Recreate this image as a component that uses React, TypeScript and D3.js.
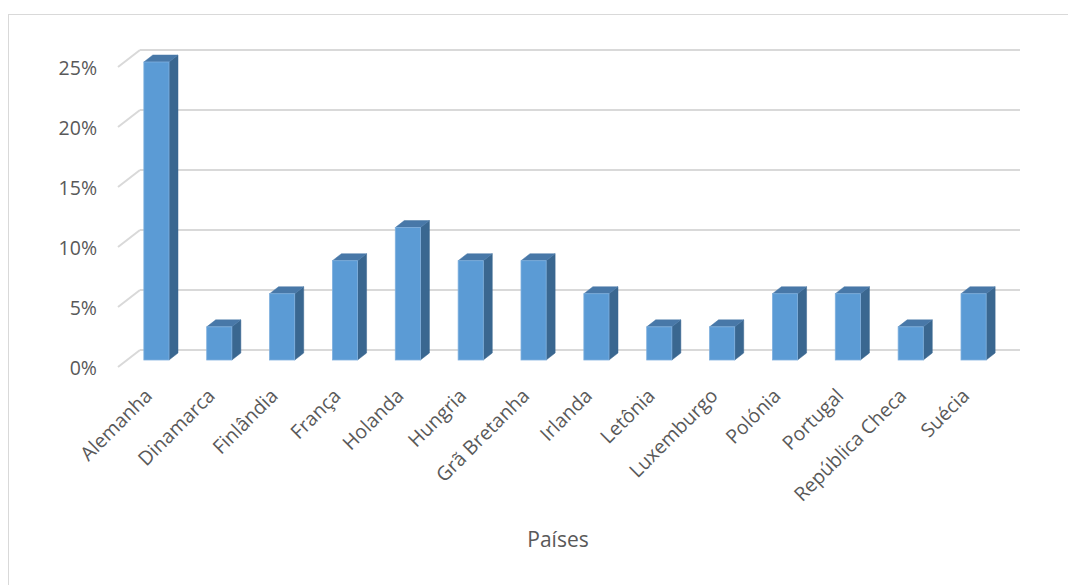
import React from "react";
import * as d3 from "d3";

const categories = [
  "Alemanha", "Dinamarca", "Finlândia", "França", "Holanda", "Hungria", "Grã Bretanha",
  "Irlanda", "Letônia", "Luxemburgo", "Polónia", "Portugal", "República Checa", "Suécia",
];
const values = [25, 2.78, 5.56, 8.33, 11.11, 8.33, 8.33, 5.56, 2.78, 2.78, 5.56, 5.56, 2.78, 5.56];
const yTicks = [0, 5, 10, 15, 20, 25];
const xTitle = "Países";

const W = 1068;
const H = 585;
const FONT = "'Open Sans', 'Segoe UI', sans-serif";

export default function App() {
  // back wall
  const wallX0 = 140, wallX1 = 1020;
  const yWall = d3.scaleLinear().domain([0, 25]).range([350, 50]);
  const depthDx = -22, depthDy = 17;
  // bars (front faces)
  const x = d3.scaleBand().domain(categories).range([125, 1005]).paddingInner(0.6).paddingOuter(0.3);
  const yBar = d3.scaleLinear().domain([0, 25]).range([360, 62]);
  const bdx = 9, bdy = -7;
  const bw = x.bandwidth();

  return (
    <svg width={W} height={H} style={{ display: "block", position: "absolute", left: 0, top: 0 }}>
      <rect x={8.5} y={14.5} width={W} height={H} fill="#fff" stroke="#d9d9d9" strokeWidth={1} />
      {yTicks.map((t) => {
        const y = yWall(t);
        return (
          <g key={t}>
            <line x1={wallX0} x2={wallX1} y1={y} y2={y} stroke="#d9d9d9" strokeWidth={2} />
            <line x1={wallX0 + depthDx} y1={y + depthDy} x2={wallX0} y2={y} stroke="#d9d9d9" strokeWidth={2} />
            <text x={97} y={y + 20} fontFamily={FONT} fontSize={19.5} fill="#595959" textAnchor="end" dominantBaseline="middle">
              {d3.format(".0%")(t / 100)}
            </text>
          </g>
        );
      })}
      {categories.map((c, i) => {
        const x0 = x(c)!;
        const x1 = x0 + bw;
        const yb = yBar(0);
        const yt = yBar(values[i]);
        const top = `M${x0},${yt} L${x0 + bdx},${yt + bdy} L${x1 + bdx},${yt + bdy} L${x1},${yt} Z`;
        const side = `M${x1},${yt} L${x1 + bdx},${yt + bdy} L${x1 + bdx},${yb + bdy} L${x1},${yb} Z`;
        return (
          <g key={c}>
            <path d={side} fill="#3a6790" stroke="#3a6790" strokeWidth={0.5} />
            <path d={top} fill="#4878a8" stroke="#4878a8" strokeWidth={0.5} />
            <rect x={x0} y={yt} width={bw} height={yb - yt} fill="#5b9bd5" stroke="#7fb0de" strokeWidth={0.8} />
          </g>
        );
      })}
      {categories.map((c) => {
        const cx = x(c)! + bw / 2 - 3;
        const cy = 397;
        return (
          <text
            key={c}
            x={cx}
            y={cy}
            fontFamily={FONT}
            fontSize={19.5}
            fill="#595959"
            textAnchor="end"
            transform={`rotate(-45 ${cx} ${cy})`}
          >
            {c}
          </text>
        );
      })}
      <text x={558} y={547} fontFamily={FONT} fontSize={21} fill="#595959" textAnchor="middle">
        {xTitle}
      </text>
    </svg>
  );
}
